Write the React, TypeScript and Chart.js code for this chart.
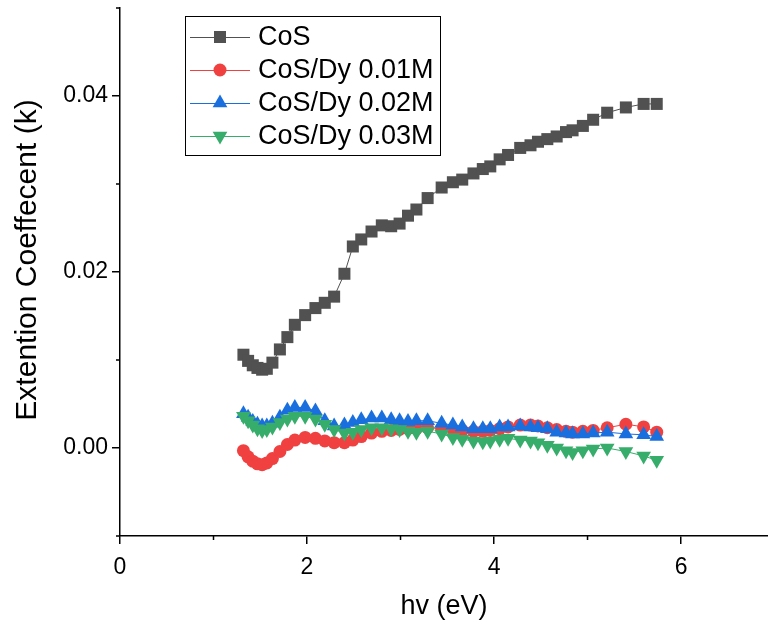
import React, { useEffect, useRef } from "react";
import { Chart, registerables } from "chart.js";

Chart.register(...registerables);

// photon energy (eV)
const energy = [1.32, 1.37, 1.42, 1.47, 1.52, 1.57, 1.63, 1.71, 1.79, 1.87, 1.98, 2.09, 2.19, 2.29, 2.40, 2.49, 2.58, 2.69, 2.80, 2.90, 2.99, 3.08, 3.17, 3.29, 3.44, 3.56, 3.66, 3.78, 3.88, 3.96, 4.06, 4.15, 4.28, 4.39, 4.47, 4.57, 4.67, 4.77, 4.84, 4.95, 5.06, 5.21, 5.41, 5.60, 5.74];

const kCoS = [0.0106, 0.0099, 0.0094, 0.0091, 0.0089, 0.0090, 0.0097, 0.0112, 0.0126, 0.0140, 0.0151, 0.0159, 0.0165, 0.0172, 0.0198, 0.0229, 0.0237, 0.0246, 0.0253, 0.0252, 0.0255, 0.0264, 0.0271, 0.0284, 0.0296, 0.0302, 0.0305, 0.0312, 0.0317, 0.0320, 0.0328, 0.0333, 0.0341, 0.0344, 0.0348, 0.0351, 0.0354, 0.0359, 0.0361, 0.0366, 0.0373, 0.0381, 0.0387, 0.0391, 0.0391];

const kDy001 = [-0.0003, -0.0010, -0.0015, -0.0018, -0.0019, -0.0017, -0.0012, -0.0004, 0.0004, 0.0009, 0.0012, 0.0011, 0.0008, 0.0006, 0.0006, 0.0009, 0.0013, 0.0017, 0.0019, 0.0020, 0.0021, 0.0022, 0.0022, 0.0023, 0.0022, 0.0021, 0.0020, 0.0019, 0.0019, 0.0020, 0.0022, 0.0024, 0.0026, 0.0026, 0.0025, 0.0023, 0.0021, 0.0019, 0.0018, 0.0019, 0.0020, 0.0023, 0.0027, 0.0024, 0.0018];

const kDy002 = [0.0039, 0.0035, 0.0030, 0.0027, 0.0025, 0.0025, 0.0028, 0.0035, 0.0043, 0.0046, 0.0046, 0.0042, 0.0031, 0.0025, 0.0026, 0.0029, 0.0032, 0.0034, 0.0034, 0.0032, 0.0031, 0.0030, 0.0031, 0.0031, 0.0028, 0.0026, 0.0024, 0.0022, 0.0022, 0.0022, 0.0024, 0.0024, 0.0025, 0.0024, 0.0023, 0.0022, 0.0018, 0.0017, 0.0016, 0.0016, 0.0017, 0.0018, 0.0016, 0.0015, 0.0013];

const kDy003 = [0.0036, 0.0031, 0.0026, 0.0022, 0.0020, 0.0021, 0.0024, 0.0029, 0.0033, 0.0036, 0.0036, 0.0033, 0.0027, 0.0021, 0.0017, 0.0018, 0.0021, 0.0023, 0.0023, 0.0022, 0.0021, 0.0019, 0.0018, 0.0019, 0.0016, 0.0012, 0.0010, 0.0008, 0.0007, 0.0008, 0.0010, 0.0011, 0.0009, 0.0008, 0.0006, 0.0003, 0.0000, -0.0003, -0.0005, -0.0003, -0.0001, 0.0000, -0.0004, -0.0009, -0.0014];

const seriesLabels = ["CoS", "CoS/Dy 0.01M", "CoS/Dy 0.02M", "CoS/Dy 0.03M"];
const seriesValues = [kCoS, kDy001, kDy002, kDy003];
const seriesColors = ["#515151", "#F14040", "#1A6FDF", "#37AD6B"];
const seriesMarkers = ["rect", "circle", "triangle", "triangleDown"];

const xTickLabels = ["0", "2", "4", "6"];
const yTickLabels = ["0.00", "0.02", "0.04"];
const xTitle = "hv (eV)";
const yTitle = "Extention Coeffecent (k)";

const FONT = '"Liberation Sans", Arial, Helvetica, sans-serif';

function drawMarker(ctx: CanvasRenderingContext2D, kind: string, x: number, y: number, color: string) {
  ctx.fillStyle = color;
  ctx.beginPath();
  if (kind === "rect") {
    ctx.rect(x - 6, y - 6, 12, 12);
  } else if (kind === "circle") {
    ctx.arc(x, y, 6.5, 0, Math.PI * 2);
  } else if (kind === "triangle") {
    const r = 8.5;
    ctx.moveTo(x, y - r);
    ctx.lineTo(x + r * 0.866, y + r / 2);
    ctx.lineTo(x - r * 0.866, y + r / 2);
    ctx.closePath();
  } else {
    const r = 8.5;
    ctx.moveTo(x, y + r);
    ctx.lineTo(x + r * 0.866, y - r / 2);
    ctx.lineTo(x - r * 0.866, y - r / 2);
    ctx.closePath();
  }
  ctx.fill();
}

const legendPlugin = {
  id: "boxLegend",
  afterDraw(chart: any) {
    const ctx = chart.ctx as CanvasRenderingContext2D;
    ctx.save();
    ctx.fillStyle = "#fff";
    ctx.fillRect(185.5, 16.5, 255, 139);
    ctx.strokeStyle = "#000";
    ctx.lineWidth = 1;
    ctx.strokeRect(185.5, 16.5, 255, 139);
    seriesLabels.forEach((label, i) => {
      const y = 37 + i * 33;
      ctx.strokeStyle = seriesColors[i];
      ctx.lineWidth = 1;
      ctx.beginPath();
      ctx.moveTo(190, y + 0.5);
      ctx.lineTo(250, y + 0.5);
      ctx.stroke();
      drawMarker(ctx, seriesMarkers[i], 220, y, seriesColors[i]);
      ctx.fillStyle = "#000";
      ctx.font = `27px ${FONT}`;
      ctx.textBaseline = "middle";
      ctx.textAlign = "left";
      ctx.fillText(label, 258, y + 1);
    });
    ctx.restore();
  },
};

const yTitlePlugin = {
  id: "yTitle",
  afterDraw(chart: any) {
    const ctx = chart.ctx as CanvasRenderingContext2D;
    ctx.save();
    ctx.translate(28, 260);
    ctx.rotate(-Math.PI / 2);
    ctx.fillStyle = "#000";
    ctx.font = `30px ${FONT}`;
    ctx.textAlign = "center";
    ctx.textBaseline = "middle";
    ctx.fillText(yTitle, 0, 0);
    ctx.restore();
  },
};

const minorTickPlugin = {
  id: "minorTicks",
  afterDraw(chart: any) {
    const ctx = chart.ctx as CanvasRenderingContext2D;
    const xs = chart.scales.x;
    const ys = chart.scales.y;
    const area = chart.chartArea;
    ctx.save();
    ctx.strokeStyle = "#000";
    ctx.lineWidth = 1.5;
    ctx.beginPath();
    xs.ticks.forEach((t: any) => {
      if (!isMajorX(t.value)) {
        const px = xs.getPixelForValue(t.value);
        ctx.moveTo(px, area.bottom);
        ctx.lineTo(px, area.bottom + 4);
      }
    });
    ys.ticks.forEach((t: any) => {
      if (!isMajorY(t.value)) {
        const py = ys.getPixelForValue(t.value);
        ctx.moveTo(area.left, py);
        ctx.lineTo(area.left - 4, py);
      }
    });
    ctx.stroke();
    ctx.restore();
  },
};

function isMajorX(v: number) {
  return xTickLabels.includes(String(Math.round(v)));
}
function isMajorY(v: number) {
  return yTickLabels.includes((Math.round(v * 100) / 100).toFixed(2));
}

export default function App() {
  const ref = useRef<HTMLCanvasElement | null>(null);

  useEffect(() => {
    if (!ref.current) return;
    const datasets = seriesLabels.map((label, i) => ({
      label,
      data: energy.map((e, j) => ({ x: e, y: seriesValues[i][j] })),
      showLine: true,
      borderColor: seriesColors[i],
      backgroundColor: seriesColors[i],
      borderWidth: 1,
      pointBackgroundColor: seriesColors[i],
      pointBorderColor: seriesColors[i],
      pointBorderWidth: 0,
      pointStyle: seriesMarkers[i] === "triangleDown" ? "triangle" : seriesMarkers[i],
      pointRotation: seriesMarkers[i] === "triangleDown" ? 180 : 0,
      pointRadius: seriesMarkers[i] === "circle" ? 6.5 : 8.5,
      order: seriesLabels.length - i,
    }));

    const chart = new Chart(ref.current, {
      type: "scatter",
      data: { datasets },
      plugins: [minorTickPlugin, legendPlugin, yTitlePlugin],
      options: {
        animation: false,
        responsive: false,
        devicePixelRatio: 1,
        layout: { autoPadding: false, padding: { top: 8, right: 0, left: 0, bottom: 0 } },
        plugins: {
          legend: { display: false },
          tooltip: { enabled: false },
        },
        scales: {
          x: {
            type: "linear",
            min: 0,
            max: 6.93,
            afterFit: (s: any) => {
              s.height = 88;
              s.paddingLeft = 0;
              s.paddingRight = 0;
            },
            ticks: {
              stepSize: 1,
              includeBounds: false,
              autoSkip: false,
              maxRotation: 0,
              padding: 10,
              color: "#000",
              font: { family: FONT, size: 23 },
              callback: (v: any) => (isMajorX(Number(v)) ? String(Math.round(Number(v))) : ""),
            },
            grid: {
              display: true,
              drawOnChartArea: false,
              drawTicks: true,
              tickLength: 8,
              lineWidth: 1.5,
              color: (c: any) => (c.tick && isMajorX(c.tick.value) ? "#000" : "rgba(0,0,0,0)"),
            },
            border: { display: true, color: "#000", width: 1.5 },
            title: {
              display: true,
              text: xTitle,
              color: "#000",
              font: { family: FONT, size: 27 },
              padding: { top: 0, bottom: 1 },
            },
          },
          y: {
            type: "linear",
            min: -0.01,
            max: 0.05,
            afterFit: (s: any) => {
              s.width = 120;
              s.paddingTop = 0;
              s.paddingBottom = 0;
            },
            ticks: {
              stepSize: 0.01,
              autoSkip: false,
              padding: 4,
              color: "#000",
              font: { family: FONT, size: 23 },
              callback: (v: any) => (isMajorY(Number(v)) ? (Math.round(Number(v) * 100) / 100).toFixed(2) : ""),
            },
            grid: {
              display: true,
              drawOnChartArea: false,
              drawTicks: true,
              tickLength: 8,
              lineWidth: 1.5,
              color: (c: any) => (c.tick && isMajorY(c.tick.value) ? "#000" : "rgba(0,0,0,0)"),
            },
            border: { display: true, color: "#000", width: 1.5 },
            title: { display: false },
          },
        },
      },
    });
    return () => chart.destroy();
  }, []);

  return (
    <div style={{ position: "absolute", left: 0, top: 0, width: 768, height: 624, background: "#fff" }}>
      <canvas ref={ref} width={768} height={624} style={{ width: 768, height: 624 }} />
    </div>
  );
}
